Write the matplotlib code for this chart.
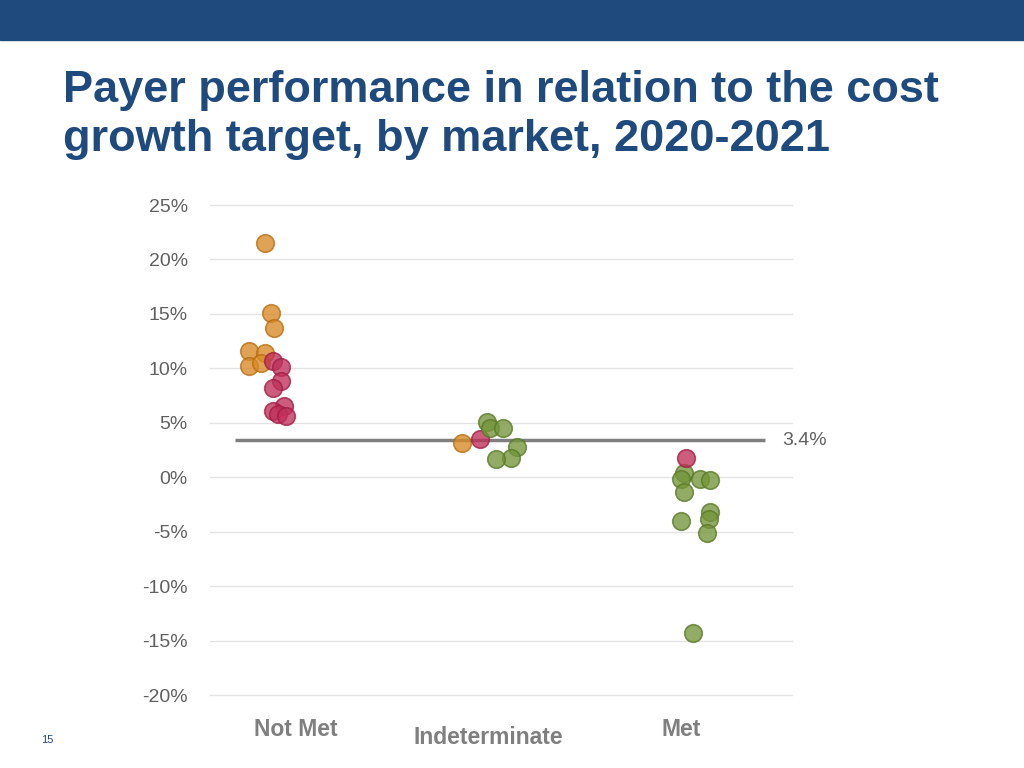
import matplotlib
matplotlib.use("Agg")
import matplotlib.pyplot as plt
import matplotlib.transforms as mtransforms

# ---- data ----
categories = ["Not Met", "Indeterminate", "Met"]
target = 3.4

# Not Met
notmet_orange_y = [21.5, 15.1, 13.7, 11.6, 11.4, 10.2, 10.5]
notmet_orange_dx = [-0.01, 0.02, 0.035, -0.085, -0.01, -0.085, -0.03]
notmet_red_y = [10.7, 10.1, 8.8, 8.2, 6.5, 6.1, 5.8, 5.6]
notmet_red_dx = [0.03, 0.065, 0.065, 0.03, 0.08, 0.03, 0.05, 0.09]
# Indeterminate
indet_orange_y = [3.1]
indet_orange_dx = [-0.09]
indet_red_y = [3.5]
indet_red_dx = [-0.005]
indet_green_y = [5.1, 4.5, 4.5, 2.8, 1.8, 1.7]
indet_green_dx = [0.03, 0.04, 0.105, 0.17, 0.14, 0.07]
# Met
met_red_y = [1.8]
met_red_dx = [-0.04]
met_green_y = [0.4, -0.2, -1.4, -0.2, -0.3, -4.0, -3.2, -3.8, -5.1, -14.3]
met_green_dx = [-0.05, -0.065, -0.05, 0.025, 0.07, -0.065, 0.07, 0.065, 0.055, -0.01]

yticks = [25, 20, 15, 10, 5, 0, -5, -10, -15, -20]

ORANGE = "#D88A25"
RED = "#C0305A"
GREEN = "#73953A"
ORANGE_E = "#B86E12"
RED_E = "#A01E45"
GREEN_E = "#5A7A28"

W, H = 1024, 768
fig = plt.figure(figsize=(W / 100, H / 100), dpi=100)
fig.patch.set_facecolor("white")

# top banner
fig.patches.append(plt.Rectangle((0, 1 - 40 / H), 1, 40 / H, transform=fig.transFigure,
                                 color="#1F4A7D", zorder=0))

fig.text(63 / W, 1 - 115 / H, "Payer performance in relation to the cost\ngrowth target, by market, 2020-2021",
         fontsize=32.5, fontweight="bold", color="#1F4A7D", family="Liberation Sans",
         va="center", ha="left", linespacing=1.22)
fig.text(47 / W, 1 - 740 / H, "15", fontsize=8, color="#1F4A7D", family="Liberation Sans",
         ha="center", va="center")

ax = fig.add_axes([210 / W, 1 - 695 / H, (792 - 210) / W, (695 - 205) / H])
sp = 214.0
ax.set_xlim(-(267 - 210) / sp, 2 + (792 - 695) / sp)
ax.set_ylim(-20, 25)
for s in ax.spines.values():
    s.set_visible(False)
ax.set_xticks([])
ax.set_yticks(yticks)
ax.set_yticklabels([f"{v}%" for v in yticks], fontsize=14, color="#606060",
                   family="Liberation Sans")
ax.tick_params(axis="y", length=0, pad=16)
for v in yticks:
    ax.axhline(v, color="#E3E3E3", lw=1, zorder=0, clip_on=False)

# threshold line
ax.plot([(235 - 267) / sp, (765 - 267) / sp], [target, target], color="#7F7F7F", lw=2.5,
        zorder=1, solid_capstyle="butt")
ax.text((782 - 267) / sp, target, f"{target}%", fontsize=14, color="#606060",
        family="Liberation Sans", va="center", ha="left")

def pts(cat, dx, ys, fc, ec):
    xs = [cat + d for d in dx]
    ax.scatter(xs, ys, s=160, facecolor=fc, edgecolor=ec, linewidth=1.2, alpha=0.78,
               zorder=3, clip_on=False)

pts(0, notmet_orange_dx, notmet_orange_y, ORANGE, ORANGE_E)
pts(0, notmet_red_dx, notmet_red_y, RED, RED_E)
pts(1, indet_orange_dx, indet_orange_y, ORANGE, ORANGE_E)
pts(1, indet_red_dx, indet_red_y, RED, RED_E)
pts(1, indet_green_dx, indet_green_y, GREEN, GREEN_E)
pts(2, met_green_dx, met_green_y, GREEN, GREEN_E)
pts(2, met_red_dx, met_red_y, RED, RED_E)

# category labels
label_dx = [0.135, 0.035, -0.065]
label_ypx = [729, 737, 729]
for i, (c, d, ypx) in enumerate(zip(categories, label_dx, label_ypx)):
    trans = mtransforms.blended_transform_factory(ax.transData, fig.transFigure)
    ax.text(i + d, 1 - ypx / H, c, transform=trans, fontsize=16.5, fontweight="bold",
            color="#7F7F7F", family="Liberation Sans", ha="center", va="center")

fig.savefig("out.png", dpi=100)
